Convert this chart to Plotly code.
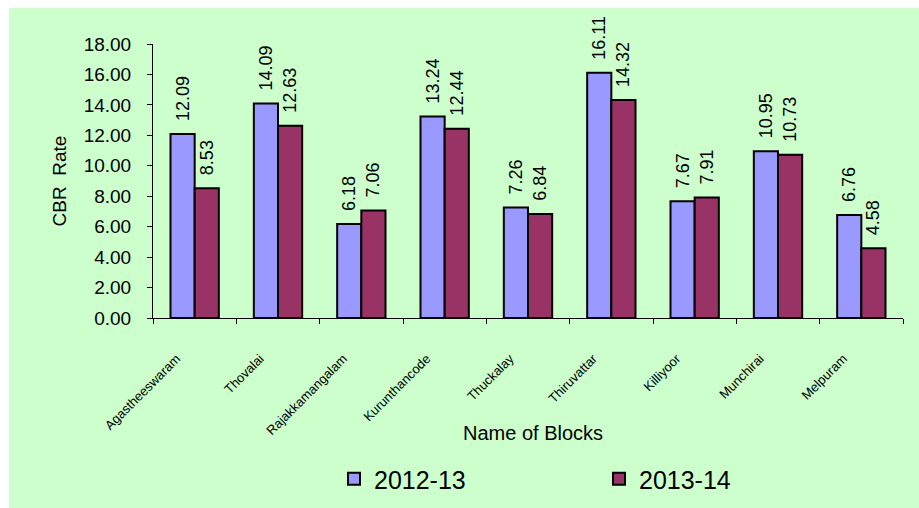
import plotly.graph_objects as go

blocks = ["Agastheeswaram", "Thovalai", "Rajakkamangalam", "Kurunthancode",
          "Thuckalay", "Thiruvattar", "Killiyoor", "Munchirai", "Melpuram"]
cbr_2012_13 = [12.09, 14.09, 6.18, 13.24, 7.26, 16.11, 7.67, 10.95, 6.76]
cbr_2013_14 = [8.53, 12.63, 7.06, 12.44, 6.84, 14.32, 7.91, 10.73, 4.58]
series_names = ["2012-13", "2013-14"]
y_ticks = [0, 2, 4, 6, 8, 10, 12, 14, 16, 18]

FONT = "Liberation Sans"
colors = ["#9999FF", "#993366"]

fig = go.Figure()
for name, vals, col in zip(series_names, [cbr_2012_13, cbr_2013_14], colors):
    fig.add_trace(go.Bar(
        x=blocks, y=vals, name=name,
        marker=dict(color=col, line=dict(color="black", width=2)),
        text=[f"{v:.2f}" for v in vals],
        texttemplate="\u00a0\u00a0%{text}",
        textposition="outside", textangle=-90,
        constraintext="none", cliponaxis=False,
        textfont=dict(family=FONT, size=18, color="black"),
    ))

L, R, T, B = 153, 16, 44, 190
W, H = 919, 508
pw, ph = W - L - R, H - T - B

def px_x(p):
    return (p - L) / pw

def px_y(p):
    return (H - B - p) / ph

fig.add_shape(type="rect", xref="paper", yref="paper",
              x0=px_x(9), x1=px_x(W + 5), y0=px_y(H + 5), y1=px_y(8),
              fillcolor="#CCFFCC", line=dict(width=0), layer="below")

fig.add_annotation(text="Name of Blocks", xref="paper", yref="paper",
                   x=px_x(533), y=px_y(433), showarrow=False,
                   xanchor="center", yanchor="middle",
                   font=dict(family=FONT, size=20, color="black"))

fig.update_layout(
    width=W, height=H,
    margin=dict(l=L, r=R, t=T, b=B, autoexpand=False),
    paper_bgcolor="white", plot_bgcolor="rgba(0,0,0,0)",
    barmode="group", bargap=0.42, bargroupgap=0,
    font=dict(family=FONT, color="black"),
    showlegend=True,
    legend=dict(orientation="h", xref="container", yref="container",
                x=334 / W, y=1 - 479 / H,
                xanchor="left", yanchor="middle",
                entrywidth=220, entrywidthmode="pixels",
                font=dict(family=FONT, size=25, color="black"),
                bgcolor="rgba(0,0,0,0)"),
    xaxis=dict(showline=True, linecolor="black", linewidth=1,
               ticks="outside", ticklen=5, tickcolor="black",
               tickson="boundaries", tickangle=-45,
               ticklabelstandoff=27, ticklabelshift=-18,
               tickfont=dict(family=FONT, size=13, color="black"),
               showgrid=False, zeroline=False, automargin=False),
    yaxis=dict(range=[0, 18], tickvals=y_ticks,
               ticktext=[f"{v:.2f}" for v in y_ticks],
               showline=True, linecolor="black", linewidth=1,
               ticks="outside", ticklen=5, tickcolor="black",
               ticklabelstandoff=12,
               tickfont=dict(family=FONT, size=19, color="black"),
               showgrid=False, zeroline=False, automargin=False,
               title=dict(text="CBR\u00a0 Rate", standoff=12,
                          font=dict(family=FONT, size=19, color="black"))),
)

fig.write_html("out.html")
